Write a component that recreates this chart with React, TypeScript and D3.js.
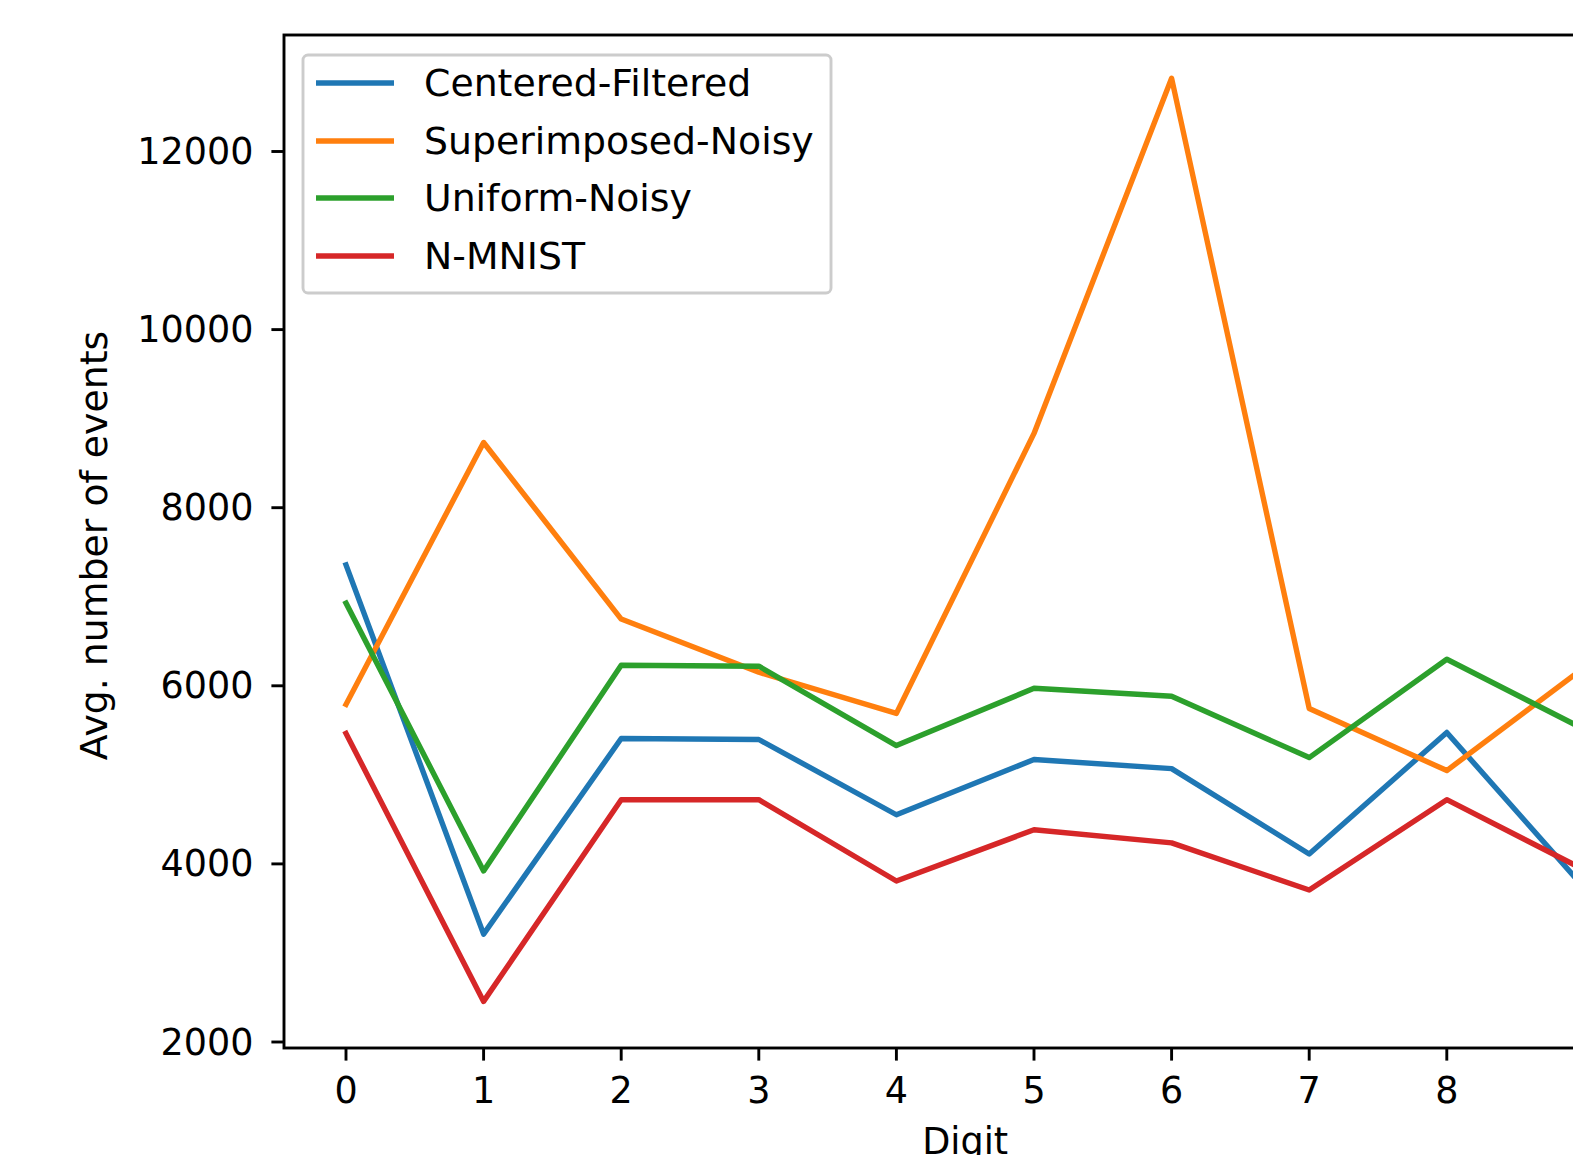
import React from "react";
import * as d3 from "d3";

const digits = [0, 1, 2, 3, 4, 5, 6, 7, 8, 9];
const centeredFiltered = [7358, 3211, 5408, 5397, 4552, 5172, 5070, 4112, 5476, 3729];
const superimposedNoisy = [5791, 8732, 6749, 6152, 5690, 8834, 12823, 5746, 5048, 6208];
const uniformNoisy = [6929, 3921, 6231, 6220, 5329, 5972, 5882, 5194, 6298, 5510];
const nMnist = [5465, 2456, 4721, 4721, 3808, 4383, 4236, 3707, 4721, 3932];
const yTicks = [2000, 4000, 6000, 8000, 10000, 12000];
const xTicks = [0, 1, 2, 3, 4, 5, 6, 7, 8, 9];

const seriesNames = ["Centered-Filtered", "Superimposed-Noisy", "Uniform-Noisy", "N-MNIST"];
const seriesColors = ["#1f77b4", "#ff7f0e", "#2ca02c", "#d62728"];
const seriesValues = [centeredFiltered, superimposedNoisy, uniformNoisy, nMnist];

const W = 1573;
const H = 1155;
const FONT = "DejaVu Sans, sans-serif";
const TICK_FS = 36.5;
const LABEL_FS = 37.8;

export default function App() {
  const left = 284;
  const top = 35;
  const bottom = 1048;
  const x0 = 346;
  const dx = 137.6;
  const x = d3.scaleLinear().domain([0, 1]).range([x0, x0 + dx]);
  const xMax = 9.45;
  const right = x(xMax);
  const y = d3.scaleLinear().domain([2000, 12000]).range([1042, 151.5]);
  const line = d3
    .line<number>()
    .x((_, i) => x(digits[i]))
    .y((d) => y(d));
  const tickLen = 12.6;
  const lw = 5.4;
  const spine = 2.9;

  const legX = 303, legY = 55, legW = 528, legH = 238;
  const rowY = [83, 141, 198, 256];

  return (
    <svg
      width={W}
      height={H}
      style={{ position: "absolute", left: 0, top: 0, background: "#fff" }}
      fontFamily={FONT}
    >
      <rect x={0} y={0} width={W} height={H} fill="#fff" />
      <defs>
        <clipPath id="axclip">
          <rect x={left} y={top} width={right - left} height={bottom - top} />
        </clipPath>
      </defs>
      <g clipPath="url(#axclip)">
        {seriesValues.map((vals, k) => (
          <path
            key={k}
            d={line(vals) || ""}
            fill="none"
            stroke={seriesColors[k]}
            strokeWidth={lw}
            strokeLinejoin="round"
            strokeLinecap="square"
          />
        ))}
      </g>
      <rect
        x={left}
        y={top}
        width={right - left}
        height={bottom - top}
        fill="none"
        stroke="#000"
        strokeWidth={spine}
      />
      {yTicks.map((t) => (
        <g key={t}>
          <line x1={left} x2={left - tickLen} y1={y(t)} y2={y(t)} stroke="#000" strokeWidth={spine} />
          <text
            x={left - tickLen - 18}
            y={y(t)}
            textAnchor="end"
            dominantBaseline="central"
            fontSize={TICK_FS}
            fill="#000"
          >
            {t}
          </text>
        </g>
      ))}
      {xTicks.map((t) => (
        <g key={t}>
          <line x1={x(t)} x2={x(t)} y1={bottom} y2={bottom + tickLen} stroke="#000" strokeWidth={spine} />
          <text x={x(t)} y={1103} textAnchor="middle" fontSize={TICK_FS} fill="#000">
            {t}
          </text>
        </g>
      ))}
      <text x={(left + right) / 2} y={1154} textAnchor="middle" fontSize={TICK_FS} fill="#000">
        Digit
      </text>
      <text
        transform={`translate(107, ${(top + bottom) / 2 + 4}) rotate(-90)`}
        textAnchor="middle"
        fontSize={LABEL_FS}
        fill="#000"
      >
        Avg. number of events
      </text>
      <rect
        x={legX}
        y={legY}
        width={legW}
        height={legH}
        rx={5}
        ry={5}
        fill="#fff"
        fillOpacity={0.8}
        stroke="#cccccc"
        strokeWidth={2.9}
      />
      {seriesNames.map((name, k) => (
        <g key={name}>
          <line x1={316} x2={394} y1={rowY[k]} y2={rowY[k]} stroke={seriesColors[k]} strokeWidth={lw} />
          <text x={424} y={rowY[k]} dominantBaseline="central" fontSize={LABEL_FS} fill="#000">
            {name}
          </text>
        </g>
      ))}
    </svg>
  );
}
